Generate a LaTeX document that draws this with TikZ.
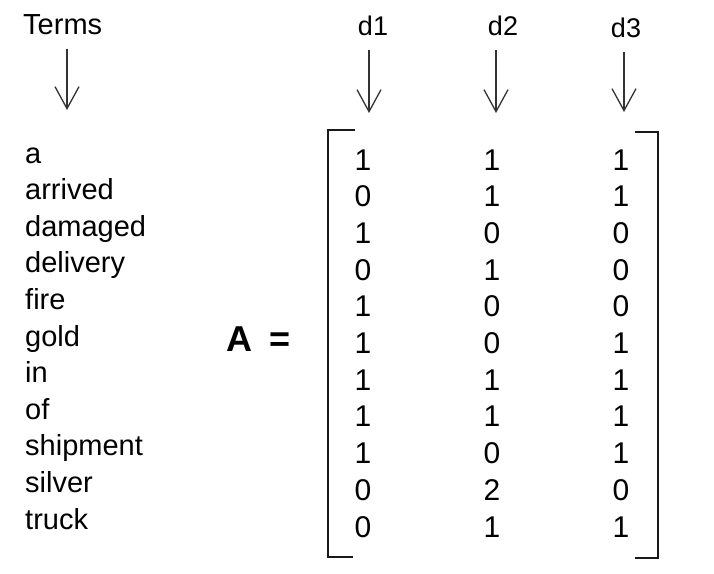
\documentclass[tikz,border=0pt]{standalone}
\usepackage{fontspec}
\setmainfont{Liberation Sans}
\usetikzlibrary{arrows.meta}
\tikzset{
	term/.style={anchor=base west, inner sep=0pt, font=\fontsize{29}{30}\selectfont},
	cell/.style={anchor=base, inner sep=0pt, font=\fontsize{30}{31}\selectfont},
	head/.style={anchor=base, inner sep=0pt, font=\fontsize{27}{28}\selectfont},
	down/.style={line width=1.3pt, color=black!80, shorten <=15pt,
		-{Straight Barb[length=22pt,width=24pt,line width=1.3pt]}},
	brack/.style={line width=2pt, color=black!90},
}

\begin{document}
\begin{tikzpicture}[x=1pt, y=-1pt]
			%%%%% START %%%%%
			\useasboundingbox (0, 0) rectangle (714, 573);
			
			\node[term] (terms) at (23, 34) {Terms};
			\node[head] (d1) at (373, 35) {d1};
			\node[head] (d2) at (503, 35) {d2};
			\node[head] (d3) at (626, 37) {d3};
			
			\coordinate (tipterms) at (67, 110);
			\coordinate (tipd1) at (369, 113);
			\coordinate (tipd2) at (496, 113);
			\coordinate (tipd3) at (624, 112);
			
			\draw[down] (terms.south -| tipterms) -- (tipterms);
			\draw[down] (d1.south -| tipd1) -- (tipd1);
			\draw[down] (d2.south -| tipd2) -- (tipd2);
			\draw[down] (d3.south -| tipd3) -- (tipd3);
			
			\node[term] (t1) at (25, 163) {a};
			\node[term] (t2) at (25, 199.6) {arrived};
			\node[term] (t3) at (25, 236.2) {damaged};
			\node[term] (t4) at (25, 272.8) {delivery};
			\node[term] (t5) at (25, 309.4) {fire};
			\node[term] (t6) at (25, 346) {gold};
			\node[term] (t7) at (25, 382.6) {in};
			\node[term] (t8) at (25, 419.2) {of};
			\node[term] (t9) at (25, 455.8) {shipment};
			\node[term] (t10) at (25, 492.4) {silver};
			\node[term] (t11) at (25, 529) {truck};
			
			\node[anchor=base west, inner sep=0pt, font=\fontsize{36}{38}\selectfont\bfseries] (lhs) at (226, 351) {A\hspace{17pt}=};
			
			\draw[brack] (355, 130) -- (328, 130) -- (328, 557) -- (353, 557);
			\draw[brack] (635, 132) -- (658, 132) -- (658, 558) -- (635, 558);
			
			\node[cell] (v1-1) at (363, 170) {1};   \node[cell] (v1-2) at (492, 170) {1};   \node[cell] (v1-3) at (621, 170) {1};
			\node[cell] (v2-1) at (363, 206.7) {0}; \node[cell] (v2-2) at (492, 206.7) {1}; \node[cell] (v2-3) at (621, 206.7) {1};
			\node[cell] (v3-1) at (363, 243.4) {1}; \node[cell] (v3-2) at (492, 243.4) {0}; \node[cell] (v3-3) at (621, 243.4) {0};
			\node[cell] (v4-1) at (363, 280.1) {0}; \node[cell] (v4-2) at (492, 280.1) {1}; \node[cell] (v4-3) at (621, 280.1) {0};
			\node[cell] (v5-1) at (363, 316.8) {1}; \node[cell] (v5-2) at (492, 316.8) {0}; \node[cell] (v5-3) at (621, 316.8) {0};
			\node[cell] (v6-1) at (363, 353.5) {1}; \node[cell] (v6-2) at (492, 353.5) {0}; \node[cell] (v6-3) at (621, 353.5) {1};
			\node[cell] (v7-1) at (363, 390.2) {1}; \node[cell] (v7-2) at (492, 390.2) {1}; \node[cell] (v7-3) at (621, 390.2) {1};
			\node[cell] (v8-1) at (363, 426.9) {1}; \node[cell] (v8-2) at (492, 426.9) {1}; \node[cell] (v8-3) at (621, 426.9) {1};
			\node[cell] (v9-1) at (363, 463.6) {1}; \node[cell] (v9-2) at (492, 463.6) {0}; \node[cell] (v9-3) at (621, 463.6) {1};
			\node[cell] (v10-1) at (363, 500.3) {0}; \node[cell] (v10-2) at (492, 500.3) {2}; \node[cell] (v10-3) at (621, 500.3) {0};
			\node[cell] (v11-1) at (363, 537) {0}; \node[cell] (v11-2) at (492, 537) {1}; \node[cell] (v11-3) at (621, 537) {1};
			
			%%%%% END %%%%%
\end{tikzpicture}
\end{document}
